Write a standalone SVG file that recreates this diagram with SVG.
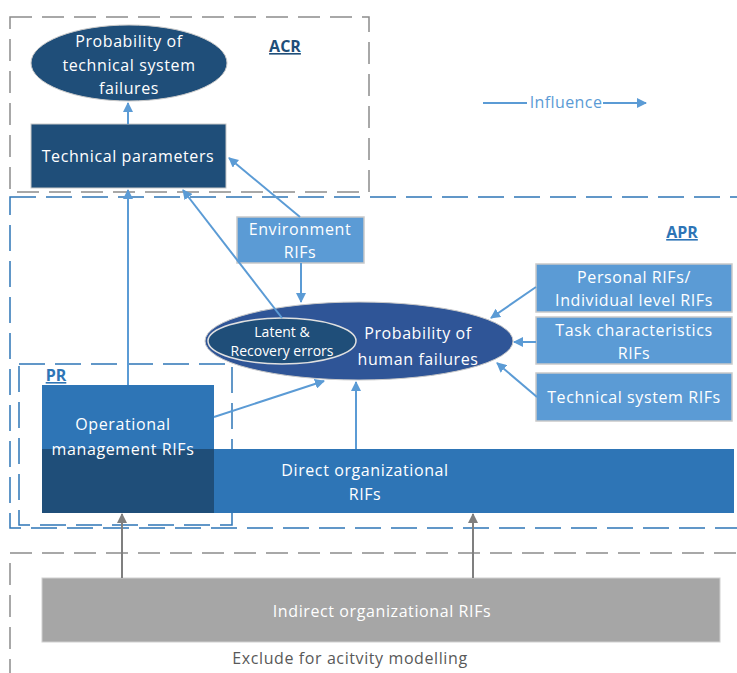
<svg xmlns="http://www.w3.org/2000/svg" width="737" height="673" viewBox="0 0 737 673">
<style>
text{font-family:"Open Sans","Liberation Sans",sans-serif;}
.w{fill:#fff;font-size:16px;letter-spacing:0.6px;text-anchor:middle;}
.ws{fill:#fff;font-size:14px;text-anchor:middle;}
.gd{fill:none;stroke:#8c8c8c;stroke-width:1.5;stroke-dasharray:22 10;}
.bd{fill:none;stroke:#2E75B6;stroke-width:1.5;stroke-dasharray:26 10;}
.lb{fill:#5B9BD5;stroke:#c9c9c9;stroke-width:1.5;}
.ar{stroke:#5B9BD5;stroke-width:2;fill:none;marker-end:url(#ab);}
.ag{stroke:#7f7f7f;stroke-width:2;fill:none;marker-end:url(#ag);}
.lab{font-size:16px;font-weight:bold;text-decoration:underline;}
</style>
<defs>
<marker id="ab" viewBox="0 0 10 10" refX="9" refY="5" markerWidth="5" markerHeight="5" orient="auto" markerUnits="strokeWidth"><path d="M0,0 L10,5 L0,10 z" fill="#5B9BD5"/></marker>
<marker id="ag" viewBox="0 0 10 10" refX="9" refY="5" markerWidth="5" markerHeight="5" orient="auto" markerUnits="strokeWidth"><path d="M0,0 L10,5 L0,10 z" fill="#7f7f7f"/></marker>
</defs>
<g id="regions">
<rect class="gd" x="10" y="17" width="359" height="175"/>
<rect class="bd" x="10" y="197" width="740" height="331"/>
<rect class="bd" x="19" y="364" width="213" height="161"/>
<rect class="gd" x="10" y="553" width="740" height="140"/>
<text class="lab" x="285" y="52" fill="#1F4E79" text-anchor="middle">ACR</text>
<text class="lab" x="682" y="238" fill="#2E75B6" text-anchor="middle">APR</text>
<text class="lab" x="56" y="381" fill="#2E75B6" text-anchor="middle">PR</text>
<text x="350" y="664" fill="#595959" font-size="16" letter-spacing="0.6" text-anchor="middle">Exclude for acitvity modelling</text>
</g>
<g id="legend">
<line x1="483" y1="103" x2="527" y2="103" stroke="#5B9BD5" stroke-width="2"/>
<line x1="603" y1="103" x2="646" y2="103" class="ar"/>
<text x="566" y="108" fill="#5B9BD5" font-size="16" letter-spacing="0.4" text-anchor="middle">Influence</text>
</g>
<g id="n-tech-fail">
<ellipse cx="129" cy="63" rx="98" ry="38" fill="#1F4E79" stroke="#c9c9c9" stroke-width="1"/>
<text class="w" x="129" y="47">Probability of</text>
<text class="w" x="129" y="71">technical system</text>
<text class="w" x="129" y="94">failures</text>
</g>
<g id="n-tech-param">
<rect x="31" y="124" width="195" height="64" fill="#1F4E79" stroke="#c9c9c9" stroke-width="1"/>
<text class="w" x="128" y="162">Technical parameters</text>
</g>
<g id="n-env">
<rect class="lb" x="237" y="217" width="127" height="46"/>
<text class="w" x="300" y="235">Environment</text>
<text class="w" x="300" y="258">RIFs</text>
</g>
<g id="n-human">
<ellipse cx="359" cy="341" rx="154" ry="39" fill="#2F5597" stroke="#c9c9c9" stroke-width="1"/>
<text class="w" x="418" y="339">Probability of</text>
<text class="w" x="418" y="365">human failures</text>
</g>
<g id="n-latent">
<ellipse cx="282" cy="341" rx="74" ry="23" fill="#1F4E79" stroke="#e0e0e0" stroke-width="1.5"/>
<text class="ws" x="282" y="337">Latent &amp;</text>
<text class="ws" x="282" y="356">Recovery errors</text>
</g>
<g id="n-personal">
<rect class="lb" x="536" y="264" width="196" height="48"/>
<text class="w" x="634" y="283">Personal RIFs/</text>
<text class="w" x="634" y="306">Individual level RIFs</text>
</g>
<g id="n-task">
<rect class="lb" x="536" y="317" width="196" height="47"/>
<text class="w" x="634" y="336">Task characteristics</text>
<text class="w" x="634" y="359">RIFs</text>
</g>
<g id="n-techsys">
<rect class="lb" x="536" y="373" width="196" height="48"/>
<text class="w" x="634" y="403">Technical system RIFs</text>
</g>
<g id="n-op">
<rect x="42" y="385" width="172" height="128" fill="#2E75B6"/>
</g>
<g id="n-direct">
<rect x="214" y="449" width="520" height="64" fill="#2E75B6"/>
<rect x="42" y="449" width="172" height="64" fill="#1F4E79"/>
<text class="w" x="365" y="476">Direct organizational</text>
<text class="w" x="365" y="500">RIFs</text>
</g>
<g id="n-op-text">
<text class="w" x="123" y="430">Operational</text>
<text class="w" x="123" y="455">management RIFs</text>
</g>
<g id="n-indirect">
<rect x="42" y="578" width="678" height="64" fill="#a6a6a6" stroke="#d0d0d0" stroke-width="1"/>
<text class="w" x="382" y="617">Indirect organizational RIFs</text>
</g>
<g id="connectors">
<line class="ar" x1="128" y1="124" x2="128" y2="103"/>
<line class="ar" x1="128" y1="385" x2="128" y2="190"/>
<line class="ar" x1="282" y1="318" x2="183" y2="190"/>
<line class="ar" x1="300" y1="217" x2="229" y2="158"/>
<line class="ar" x1="301" y1="263" x2="301" y2="302"/>
<line class="ar" x1="214" y1="417" x2="324" y2="381"/>
<line class="ar" x1="356" y1="449" x2="356" y2="382"/>
<line class="ar" x1="536" y1="287" x2="491" y2="318"/>
<line class="ar" x1="536" y1="342" x2="514" y2="342"/>
<line class="ar" x1="537" y1="397" x2="497" y2="363"/>
<line class="ag" x1="122" y1="578" x2="122" y2="514"/>
<line class="ag" x1="473" y1="578" x2="473" y2="514"/>
</g>
</svg>
